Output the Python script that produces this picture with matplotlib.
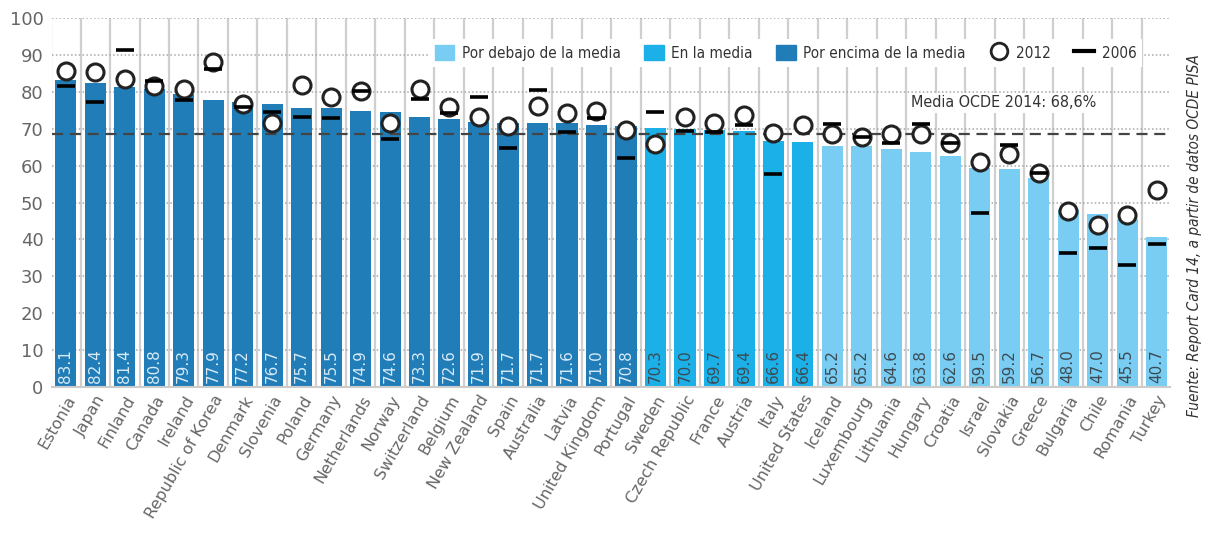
import numpy as np
import matplotlib.pyplot as plt
from matplotlib.lines import Line2D
from matplotlib.patches import Patch

paises = ["Estonia", "Japan", "Finland", "Canada", "Ireland", "Republic of Korea", "Denmark",
          "Slovenia", "Poland", "Germany", "Netherlands", "Norway", "Switzerland", "Belgium",
          "New Zealand", "Spain", "Australia", "Latvia", "United Kingdom", "Portugal",
          "Sweden", "Czech Republic", "France", "Austria", "Italy", "United States",
          "Iceland", "Luxembourg", "Lithuania", "Hungary", "Croatia", "Israel", "Slovakia",
          "Greece", "Bulgaria", "Chile", "Romania", "Turkey"]
valores_2014 = [83.1, 82.4, 81.4, 80.8, 79.3, 77.9, 77.2, 76.7, 75.7, 75.5, 74.9, 74.6, 73.3,
                72.6, 71.9, 71.7, 71.7, 71.6, 71.0, 70.8, 70.3, 70.0, 69.7, 69.4, 66.6, 66.4,
                65.2, 65.2, 64.6, 63.8, 62.6, 59.5, 59.2, 56.7, 48.0, 47.0, 45.5, 40.7]
valores_2012 = [85.7, 85.5, 83.5, 81.6, 80.7, 88.2, 76.6, 71.7, 81.8, 78.5, 80.3, 71.6, 80.7,
                75.8, 73.3, 70.7, 76.2, 74.2, 74.8, 69.8, 66.0, 73.3, 71.7, 73.7, 68.9, 71.0,
                68.7, 67.8, 68.7, 68.6, 66.2, 61.1, 63.1, 58.1, 47.8, 43.9, 46.6, 53.5]
valores_2006 = [81.5, 77.3, 91.3, 83.0, 77.8, 86.1, 76.0, 74.6, 73.1, 72.8, 80.3, 67.2, 78.0,
                74.4, 78.7, 64.9, 80.5, 69.2, 72.8, 62.0, 74.6, 69.4, 69.0, 71.0, 57.7, np.nan,
                71.3, 67.8, 66.2, 71.3, 66.2, 47.1, 65.6, 58.1, 36.4, 37.8, 33.1, 38.8]
# 2 = por encima, 1 = en la media, 0 = por debajo
grupo = [2] * 20 + [1] * 6 + [0] * 12
media_ocde = 68.6

colores = {0: "#79cdf2", 1: "#1bb0e8", 2: "#217db8"}
gris = "#666666"
fuente = {"family": "DejaVu Sans", "stretch": "condensed"}

fig = plt.figure(figsize=(12.08, 5.33), dpi=100)
ax = fig.add_axes([0.043, 0.274, 0.9255, 0.692])

x = np.arange(len(paises))
ax.bar(x, valores_2014, width=0.72, color=[colores[g] for g in grupo], zorder=2)

# separadores verticales y rejilla punteada
for i in range(-1, len(paises) - 1):
    ax.axvline(i + 0.5, color="#cfcfcf", lw=1.6, zorder=1)
for v in range(10, 101, 10):
    ax.axhline(v, color="#a8a8a8", lw=1.1, ls=(0, (1, 1.5)), zorder=1.5)

ax.axhline(media_ocde, color="#444444", lw=1.6, ls=(0, (5, 3)), zorder=3)
ax.text(31.8, media_ocde + 8.4, "Media OCDE 2014: 68,6%", fontsize=11.5, color="#333333",
        ha="center", va="center", zorder=4, fontdict=fuente,
        bbox=dict(facecolor="white", edgecolor="none", pad=2))

ax.scatter(x, valores_2012, s=150, facecolor="white", edgecolor="#222222", lw=2.2, zorder=5)
ax.scatter(x, valores_2006, s=170, marker="_", color="black", lw=2.6, zorder=6)

for xi, v, g in zip(x, valores_2014, grupo):
    ax.text(xi, 1.2, f"{v:.1f}", rotation=90, ha="center", va="bottom", fontsize=11,
            color="#d8ebf6" if g == 2 else "#3d4a52", zorder=4)

ax.set_xlim(-0.47, len(paises) - 0.55)
ax.set_ylim(0, 100)
ax.set_yticks(range(0, 101, 10))
ax.tick_params(axis="y", length=0, labelsize=13, labelcolor=gris, pad=6)
ax.set_xticks(x)
ax.set_xticklabels(paises, rotation=60, ha="right", rotation_mode="anchor",
                   fontsize=11.5, color=gris)
ax.tick_params(axis="x", length=0, pad=4)
for s in ["top", "right", "left"]:
    ax.spines[s].set_visible(False)
ax.spines["bottom"].set_color("#cccccc")
ax.spines["bottom"].set_linewidth(1.5)

handles = [Patch(color=colores[0], label="Por debajo de la media"),
           Patch(color=colores[1], label="En la media"),
           Patch(color=colores[2], label="Por encima de la media"),
           Line2D([], [], marker="o", ls="none", mfc="white", mec="#222222", mew=2, ms=12,
                  label="2012"),
           Line2D([], [], color="black", lw=3, label="2006")]
leg = ax.legend(handles=handles, ncol=5, loc="upper left", bbox_to_anchor=(0.33, 0.965),
                frameon=True, fancybox=False, edgecolor="none", facecolor="white",
                framealpha=1, prop=dict(fuente, size=11),
                handlelength=1.3, handleheight=1.2, columnspacing=1.5, handletextpad=0.5,
                borderpad=0.4)
leg.set_zorder(7)
for t in leg.get_texts():
    t.set_color("#333333")

fig.text(0.989, 0.557, "Fuente: Report Card 14, a partir de datos OCDE PISA", rotation=90,
         ha="center", va="center", fontsize=11, style="italic", color="#333333",
         fontstretch="condensed")

fig.savefig("out.png", dpi=100)
